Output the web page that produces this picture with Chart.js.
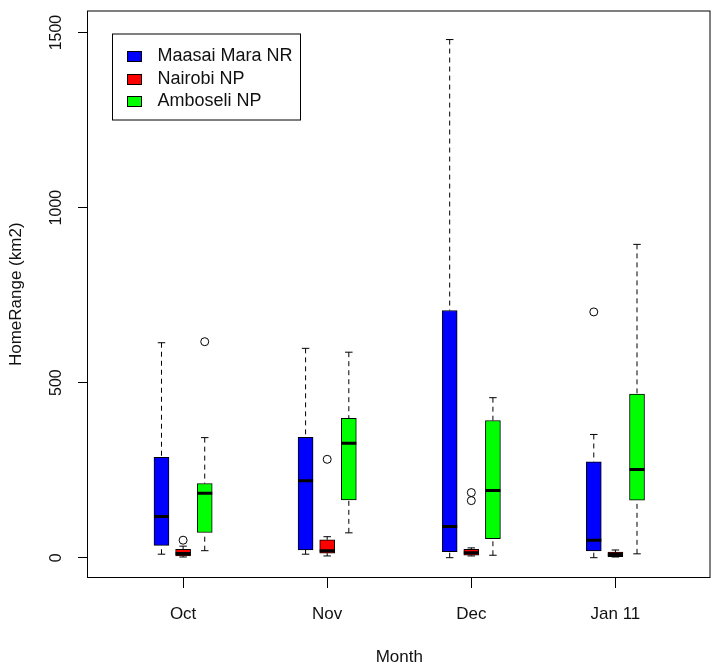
<!DOCTYPE html>
<html>
<head>
<meta charset="utf-8">
<title>HomeRange by month</title>
<script src="https://cdn.jsdelivr.net/npm/chart.js@4.4.0/dist/chart.umd.min.js"></script>
<style>
  html, body { margin: 0; padding: 0; background: #fff; }
  canvas { display: block; }
</style>
</head>
<body>
<canvas id="chart" width="721" height="670"></canvas>
<script>
// x axis groups, one box per park in each month
const months = ["Oct", "Nov", "Dec", "Jan 11"];
const parks = ["Maasai Mara NR", "Nairobi NP", "Amboseli NP"];
const parkColors = ["#0000ff", "#ff0000", "#00ff00"];
const yTicks = [0, 500, 1000, 1500];

// box stats per month: lower whisker, Q1, median, Q3, upper whisker, outliers
const maraLow = [10, 10, 0, 0];
const maraQ1 = [35, 22, 17, 19];
const maraMedian = [118, 220, 89, 50];
const maraQ3 = [287, 344, 706, 274];
const maraHigh = [614, 598, 1480, 352];
const maraOutliers = [[], [], [], [702]];

const nairobiLow = [2, 5, 5, 2];
const nairobiQ1 = [5, 13, 7, 3];
const nairobiMedian = [12, 20, 14, 9];
const nairobiQ3 = [24, 51, 24, 16];
const nairobiHigh = [33, 60, 28, 22];
const nairobiOutliers = [[50], [281], [186, 163], []];

const amboseliLow = [20, 71, 7, 11];
const amboseliQ1 = [72, 165, 54, 164];
const amboseliMedian = [184, 327, 192, 252];
const amboseliQ3 = [212, 398, 392, 467];
const amboseliHigh = [343, 587, 457, 895];
const amboseliOutliers = [[617], [], [], []];

const parkStats = [
	{low: maraLow, q1: maraQ1, med: maraMedian, q3: maraQ3, high: maraHigh, out: maraOutliers},
	{low: nairobiLow, q1: nairobiQ1, med: nairobiMedian, q3: nairobiQ3, high: nairobiHigh, out: nairobiOutliers},
	{low: amboseliLow, q1: amboseliQ1, med: amboseliMedian, q3: amboseliQ3, high: amboseliHigh, out: amboseliOutliers}
];
const groupOffsets = [-0.15, 0, 0.15];

const FONT = "'Liberation Sans', Arial, sans-serif";

// one set of datasets (box, whiskers, caps, median, outliers) per park
const datasets = [];
parkStats.forEach((s, p) => {
	const xs = months.map((m, i) => i + 1 + groupOffsets[p]);
	datasets.push({
		type: "bar",
		label: parks[p],
		data: xs.map((x, i) => ({x: x, y: [s.q1[i], s.q3[i]]})),
		backgroundColor: parkColors[p],
		borderColor: "#000",
		borderWidth: 1,
		borderSkipped: false,
		barThickness: 15,
		grouped: false,
		order: 3
	});
	datasets.push({
		type: "line",
		data: xs.flatMap((x, i) => [
			{x: x, y: s.high[i]}, {x: x, y: s.q3[i]}, {x: x, y: null},
			{x: x, y: s.low[i]}, {x: x, y: s.q1[i]}, {x: x, y: null}
		]),
		borderColor: "#000",
		borderWidth: 1,
		borderDash: [5, 4],
		pointRadius: 0,
		spanGaps: false,
		fill: false,
		order: 4
	});
	datasets.push({
		type: "scatter",
		data: xs.flatMap((x, i) => [{x: x, y: s.low[i]}, {x: x, y: s.high[i]}]),
		pointStyle: "line",
		pointRadius: 3.75,
		borderColor: "#000",
		borderWidth: 1,
		order: 2
	});
	datasets.push({
		type: "scatter",
		data: xs.map((x, i) => ({x: x, y: s.med[i]})),
		pointStyle: "line",
		pointRadius: 7.5,
		borderColor: "#000",
		borderWidth: 3,
		order: 1
	});
	datasets.push({
		type: "scatter",
		data: xs.flatMap((x, i) => s.out[i].map(v => ({x: x, y: v}))),
		pointStyle: "circle",
		pointRadius: 4,
		backgroundColor: "rgba(0,0,0,0)",
		borderColor: "#000",
		borderWidth: 1,
		order: 0
	});
});

// box round the plot region, like R's bty="o"
const frame = {
	id: "frame",
	afterDraw(chart) {
		const {ctx, chartArea: a} = chart;
		ctx.save();
		ctx.strokeStyle = "#000";
		ctx.lineWidth = 1;
		ctx.strokeRect(a.left - 0.5, a.top + 0.5, a.right - a.left, a.bottom - a.top - 1);
		ctx.restore();
	}
};

// y tick labels run parallel to the axis
const yLabels = {
	id: "yLabels",
	afterDraw(chart) {
		const {ctx, chartArea: a} = chart;
		const scale = chart.scales.y;
		ctx.save();
		ctx.fillStyle = "#111";
		ctx.font = "16px " + FONT;
		ctx.textAlign = "center";
		ctx.textBaseline = "middle";
		yTicks.forEach(v => {
			ctx.save();
			ctx.translate(a.left - 31.5, scale.getPixelForValue(v));
			ctx.rotate(-Math.PI / 2);
			ctx.fillText(String(v), 0, 0);
			ctx.restore();
		});
		ctx.restore();
	}
};

// legend box in the top left corner of the plot
const legendBox = {
	id: "legendBox",
	afterDraw(chart) {
		const {ctx, chartArea: a} = chart;
		const bx = a.left + 24, by = a.top + 23;
		ctx.save();
		ctx.fillStyle = "#fff";
		ctx.fillRect(bx, by, 188, 86);
		ctx.strokeStyle = "#000";
		ctx.lineWidth = 1;
		ctx.strokeRect(bx + 0.5, by + 0.5, 188, 86);
		ctx.font = "18px " + FONT;
		ctx.textBaseline = "middle";
		parks.forEach((name, i) => {
			const cy = by + 23 + i * 22.5;
			ctx.fillStyle = parkColors[i];
			ctx.fillRect(bx + 15, Math.round(cy - 5.5), 15, 11);
			ctx.strokeRect(bx + 15.5, Math.round(cy - 5.5) + 0.5, 14, 10);
			ctx.fillStyle = "#111";
			ctx.fillText(name, bx + 45.5, cy);
		});
		ctx.restore();
	}
};

new Chart(document.getElementById("chart"), {
	type: "bar",
	data: {datasets: datasets},
	options: {
		responsive: false,
		animation: false,
		events: [],
		devicePixelRatio: 1,
		layout: {padding: {top: 10, right: 2, left: 0, bottom: 0}},
		plugins: {
			legend: {display: false},
			tooltip: {enabled: false}
		},
		scales: {
			x: {
				type: "linear",
				min: 0.34,
				max: 4.66,
				offset: false,
				afterBuildTicks: (scale) => {
					scale.ticks = months.map((m, i) => ({value: i + 1}));
				},
				afterFit: (scale) => { scale.height = 92; },
				ticks: {
					callback: (value, index) => months[index],
					color: "#111",
					font: {family: FONT, size: 17},
					padding: 16,
					maxRotation: 0,
					autoSkip: false
				},
				grid: {display: true, drawOnChartArea: false, drawTicks: true, tickLength: 10, color: "#000", offset: false},
				border: {display: false},
				title: {display: true, text: "Month", color: "#111", font: {family: FONT, size: 17}, padding: {top: 0, bottom: 2}}
			},
			y: {
				type: "linear",
				min: -58,
				max: 1563,
				afterBuildTicks: (scale) => {
					scale.ticks = yTicks.map(v => ({value: v}));
				},
				afterFit: (scale) => { scale.width = 88; },
				ticks: {display: false},
				grid: {display: true, drawOnChartArea: false, drawTicks: true, tickLength: 10, color: "#000"},
				border: {display: false},
				title: {display: true, text: "HomeRange (km2)", color: "#111", font: {family: FONT, size: 17}, padding: {top: 6, bottom: 0}}
			}
		}
	},
	plugins: [frame, yLabels, legendBox]
});
</script>
</body>
</html>
